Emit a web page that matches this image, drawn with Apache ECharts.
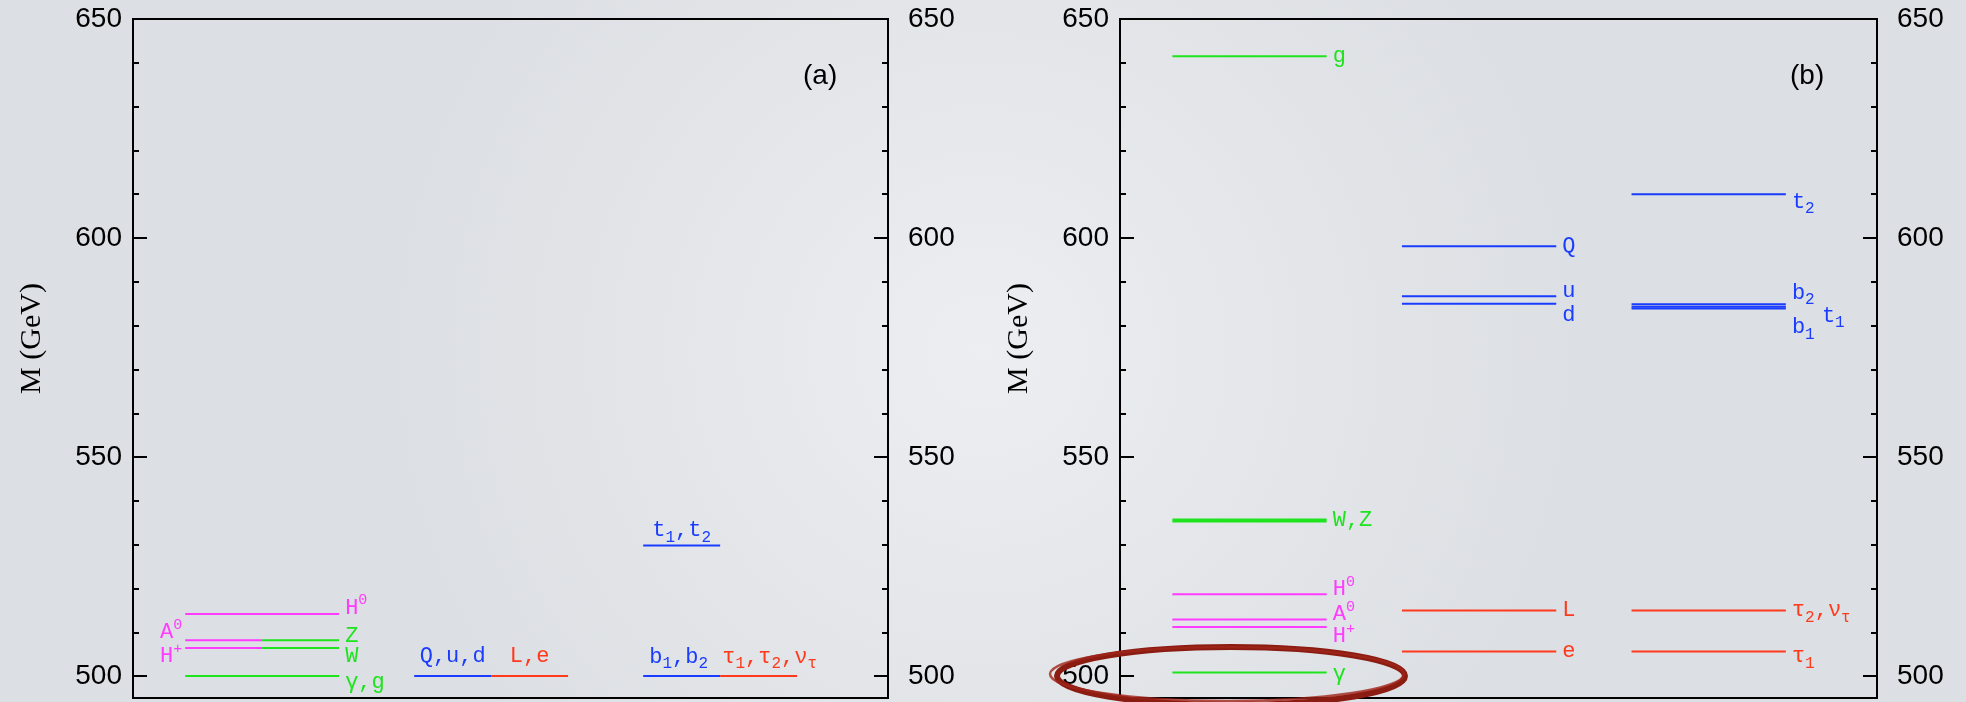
<!DOCTYPE html>
<html><head><meta charset="utf-8">
<script src="https://cdn.jsdelivr.net/npm/echarts@6/dist/echarts.min.js"></script>
<style>html,body{margin:0;padding:0;width:1966px;height:702px;overflow:hidden;background:#e6e9ec}#c{width:1966px;height:702px}</style>
</head><body><div id="c"></div><script>
// ---------------- data ----------------
const yMin = 495, yMax = 650;
const majorTicks = [500, 550, 600, 650];
const minorTicks = [510, 520, 530, 540, 560, 570, 580, 590, 610, 620, 630, 640];
const panelTitles = ['(a)', '(b)'];
const axisTitle = 'M (GeV)';

// panel (a)
const aNames = ['H0', 'A0', 'Z', 'H+', 'W', 'γ,g', 'Q,u,d', 'L,e', 't1,t2', 'b1,b2', 'τ1,τ2,ντ'];
const aMass  = [514.2, 508.2, 508.2, 506.4, 506.4, 500.0, 500.0, 500.0, 529.8, 500.0, 500.0];
const aCol   = [0, 0, 0, 0, 0, 0, 1, 1, 2, 2, 2];
const aPart  = ['full', 'left', 'right', 'left', 'right', 'full', 'left', 'right', 'left', 'left', 'right'];
const aKind  = ['higgs', 'higgs', 'gauge', 'higgs', 'gauge', 'gauge', 'squark', 'slepton', 'squark', 'squark', 'slepton'];

// panel (b)
const bNames = ['g', 'W,Z', 'H0', 'A0', 'H+', 'γ', 'Q', 'u', 'd', 'L', 'e', 't2', 'b2', 't1', 'b1', 'τ2,ντ', 'τ1'];
const bMass  = [641.5, 535.5, 518.7, 512.9, 511.2, 500.8, 598.1, 586.7, 585.0, 515.0, 505.6, 610.0, 584.9, 584.3, 583.9, 515.0, 505.6];
const bCol   = [0, 0, 0, 0, 0, 0, 1, 1, 1, 1, 1, 2, 2, 2, 2, 2, 2];
const bPart  = ['full', 'full', 'full', 'full', 'full', 'full', 'full', 'full', 'full', 'full', 'full', 'full', 'full', 'full', 'full', 'full', 'full'];
const bKind  = ['gauge', 'gauge', 'higgs', 'higgs', 'higgs', 'gauge', 'squark', 'squark', 'squark', 'slepton', 'slepton', 'squark', 'squark', 'squark', 'squark', 'slepton', 'slepton'];

// ---------------- styles ----------------
const kindColor = { higgs: '#ff3cff', gauge: '#1ee41e', squark: '#1a3cff', slepton: '#ff3a1c' };
const HALF = 0.336;
const richText = {
  'H0': '{t|H}{sup|0}', 'A0': '{t|A}{sup|0}', 'H+': '{t|H}{sup|+}',
  'Z': '{t|Z}', 'W': '{t|W}', 'γ,g': '{t|γ,g}', 'Q,u,d': '{t|Q,u,d}', 'L,e': '{t|L,e}',
  't1,t2': '{t|t}{sub|1}{t|,t}{sub|2}', 'b1,b2': '{t|b}{sub|1}{t|,b}{sub|2}',
  'τ1,τ2,ντ': '{t|τ}{sub|1}{t|,τ}{sub|2}{t|,ν}{sub|τ}',
  'g': '{t|g}', 'W,Z': '{t|W,Z}', 'γ': '{t|γ}', 'Q': '{t|Q}', 'u': '{t|u}', 'd': '{t|d}',
  'L': '{t|L}', 'e': '{t|e}', 't2': '{t|t}{sub|2}', 'b2': '{t|b}{sub|2}', 't1': '{t|t}{sub|1}',
  'b1': '{t|b}{sub|1}', 'τ2,ντ': '{t|τ}{sub|2}{t|,ν}{sub|τ}', 'τ1': '{t|τ}{sub|1}'
};
// label placement per panel: [anchor, position, dx, dy]
const placeA = {
  'H0': ['end', 'right', 0, -6], 'Z': ['end', 'right', 0, -4], 'W': ['end', 'right', 0, 8],
  'γ,g': ['end', 'right', 0, 6], 'A0': ['start', 'left', 0, -8], 'H+': ['start', 'left', 0, 8],
  'Q,u,d': ['mid', 'inside', 0, -20], 'L,e': ['mid', 'inside', 0, -20], 't1,t2': ['mid', 'inside', 0, -15],
  'b1,b2': ['start', 'right', 0, -19], 'τ1,τ2,ντ': ['start', 'right', -4, -19]
};
const placeB = {
  'g': ['end', 'right', 0, 0], 'W,Z': ['end', 'right', 0, 0], 'H0': ['end', 'right', 0, -5],
  'A0': ['end', 'right', 0, -5], 'H+': ['end', 'right', 0, 9], 'γ': ['end', 'right', 0, 2],
  'Q': ['end', 'right', 0, 0], 'u': ['end', 'right', 0, -5], 'd': ['end', 'right', 0, 11],
  'L': ['end', 'right', 0, 0], 'e': ['end', 'right', 0, 0], 't2': ['end', 'right', 0, 8],
  'b2': ['end', 'right', 0, -11], 't1': ['end', 'right', 30, 9], 'b1': ['end', 'right', 0, 19],
  'τ2,ντ': ['end', 'right', 0, 0], 'τ1': ['end', 'right', 0, 5]
};
const thick = { 'W,Z': 4 };

const rich = {
  t: { fontFamily: 'Liberation Mono', fontSize: 22, lineHeight: 30 },
  sup: { fontFamily: 'Liberation Mono', fontSize: 15, lineHeight: 15, verticalAlign: 'top' },
  sub: { fontFamily: 'Liberation Mono', fontSize: 16, lineHeight: 16, verticalAlign: 'bottom' }
};

function buildSeries(names, mass, col, part, kind, place, g) {
  return names.map((nm, i) => {
    const c = col[i];
    const x0 = part[i] === 'right' ? c : c - HALF;
    const x1 = part[i] === 'left' ? c : c + HALF;
    const pts = [[x0, mass[i]], [(x0 + x1) / 2, mass[i]], [x1, mass[i]]];
    const p = place[nm];
    const idx = p[0] === 'start' ? 0 : (p[0] === 'mid' ? 1 : 2);
    const color = kindColor[kind[i]];
    const data = pts.map((pt, k) => {
      if (k !== idx) return { value: pt };
      return {
        value: pt,
        label: {
          show: true, position: p[1], distance: p[1] === 'inside' ? 0 : (p[1] === 'left' ? 3 : 6),
          offset: [p[2], p[3]], formatter: richText[nm], color: color, rich: rich
        }
      };
    });
    return {
      type: 'line', name: nm, xAxisIndex: g, yAxisIndex: g * 4, data: data,
      symbol: 'rect', symbolSize: 0.1, showSymbol: true, silent: true,
      itemStyle: { color: color },
      lineStyle: { color: color, width: thick[nm] || 2 },
      label: { show: false }, emphasis: { disabled: true }, z: 3
    };
  });
}

const grids = [
  { left: 133, top: 19, width: 755, height: 679 },
  { left: 1120, top: 19, width: 757, height: 679 }
];

const xAxes = [], yAxes = [];
grids.forEach((gr, g) => {
  xAxes.push({ gridIndex: g, type: 'value', min: -0.564, max: 2.733, show: false,
    axisLine: { onZero: false } });
  const common = {
    gridIndex: g, type: 'value', min: yMin, max: yMax,
    axisLine: { show: false, onZero: false }, splitLine: { show: false }
  };
  const lab = (m) => ({ customValues: majorTicks, margin: m, fontSize: 28, color: '#000', fontFamily: 'Liberation Sans' });
  yAxes.push(Object.assign({}, common, {
    position: 'left',
    axisTick: { show: true, inside: true, length: 14, customValues: majorTicks, lineStyle: { color: '#000', width: 2 } },
    axisLabel: lab(11),
    name: axisTitle, nameLocation: 'middle', nameRotate: 90, nameGap: 86,
    nameTextStyle: { fontFamily: 'Liberation Serif', fontSize: 30, color: '#000', padding: [0, 0, 0, 40] }
  }));
  yAxes.push(Object.assign({}, common, {
    position: 'right',
    axisTick: { show: true, inside: true, length: 14, customValues: majorTicks, lineStyle: { color: '#000', width: 2 } },
    axisLabel: lab(20)
  }));
  yAxes.push(Object.assign({}, common, {
    position: 'left', axisLabel: { show: false },
    axisTick: { show: true, inside: true, length: 6, customValues: minorTicks, lineStyle: { color: '#000', width: 2 } }
  }));
  yAxes.push(Object.assign({}, common, {
    position: 'right', axisLabel: { show: false },
    axisTick: { show: true, inside: true, length: 6, customValues: minorTicks, lineStyle: { color: '#000', width: 2 } }
  }));
});

const series = [].concat(
  buildSeries(aNames, aMass, aCol, aPart, aKind, placeA, 0),
  buildSeries(bNames, bMass, bCol, bPart, bKind, placeB, 1)
);

const chart = echarts.init(document.getElementById('c'), null, { renderer: 'canvas' });
chart.setOption({
  animation: false,
  backgroundColor: {
    type: 'radial', x: 0.5, y: 0.5, r: 0.85,
    colorStops: [{ offset: 0, color: '#eceef1' }, { offset: 1, color: '#dcdfe3' }]
  },
  grid: grids.map(gr => Object.assign({
    show: true, borderColor: '#000', borderWidth: 2, backgroundColor: 'transparent',
    outerBoundsMode: 'none', containLabel: false
  }, gr)),
  xAxis: xAxes,
  yAxis: yAxes,
  series: series,
  graphic: [
    { type: 'text', left: 803, top: 62, style: { text: panelTitles[0], fontSize: 28, fontFamily: 'Liberation Sans', fill: '#000' } },
    { type: 'text', left: 1790, top: 62, style: { text: panelTitles[1], fontSize: 28, fontFamily: 'Liberation Sans', fill: '#000' } },
    { type: 'ellipse', z: 100, silent: true, shape: { cx: 1231, cy: 676, rx: 174, ry: 29 },
      style: { fill: null, stroke: '#8b1c12', lineWidth: 6 } },
    { type: 'ellipse', z: 100, silent: true, shape: { cx: 1227, cy: 674, rx: 177, ry: 27 },
      style: { fill: null, stroke: '#a0261a', lineWidth: 2.5, opacity: 0.8 } }
  ]
});
</script></body></html>
